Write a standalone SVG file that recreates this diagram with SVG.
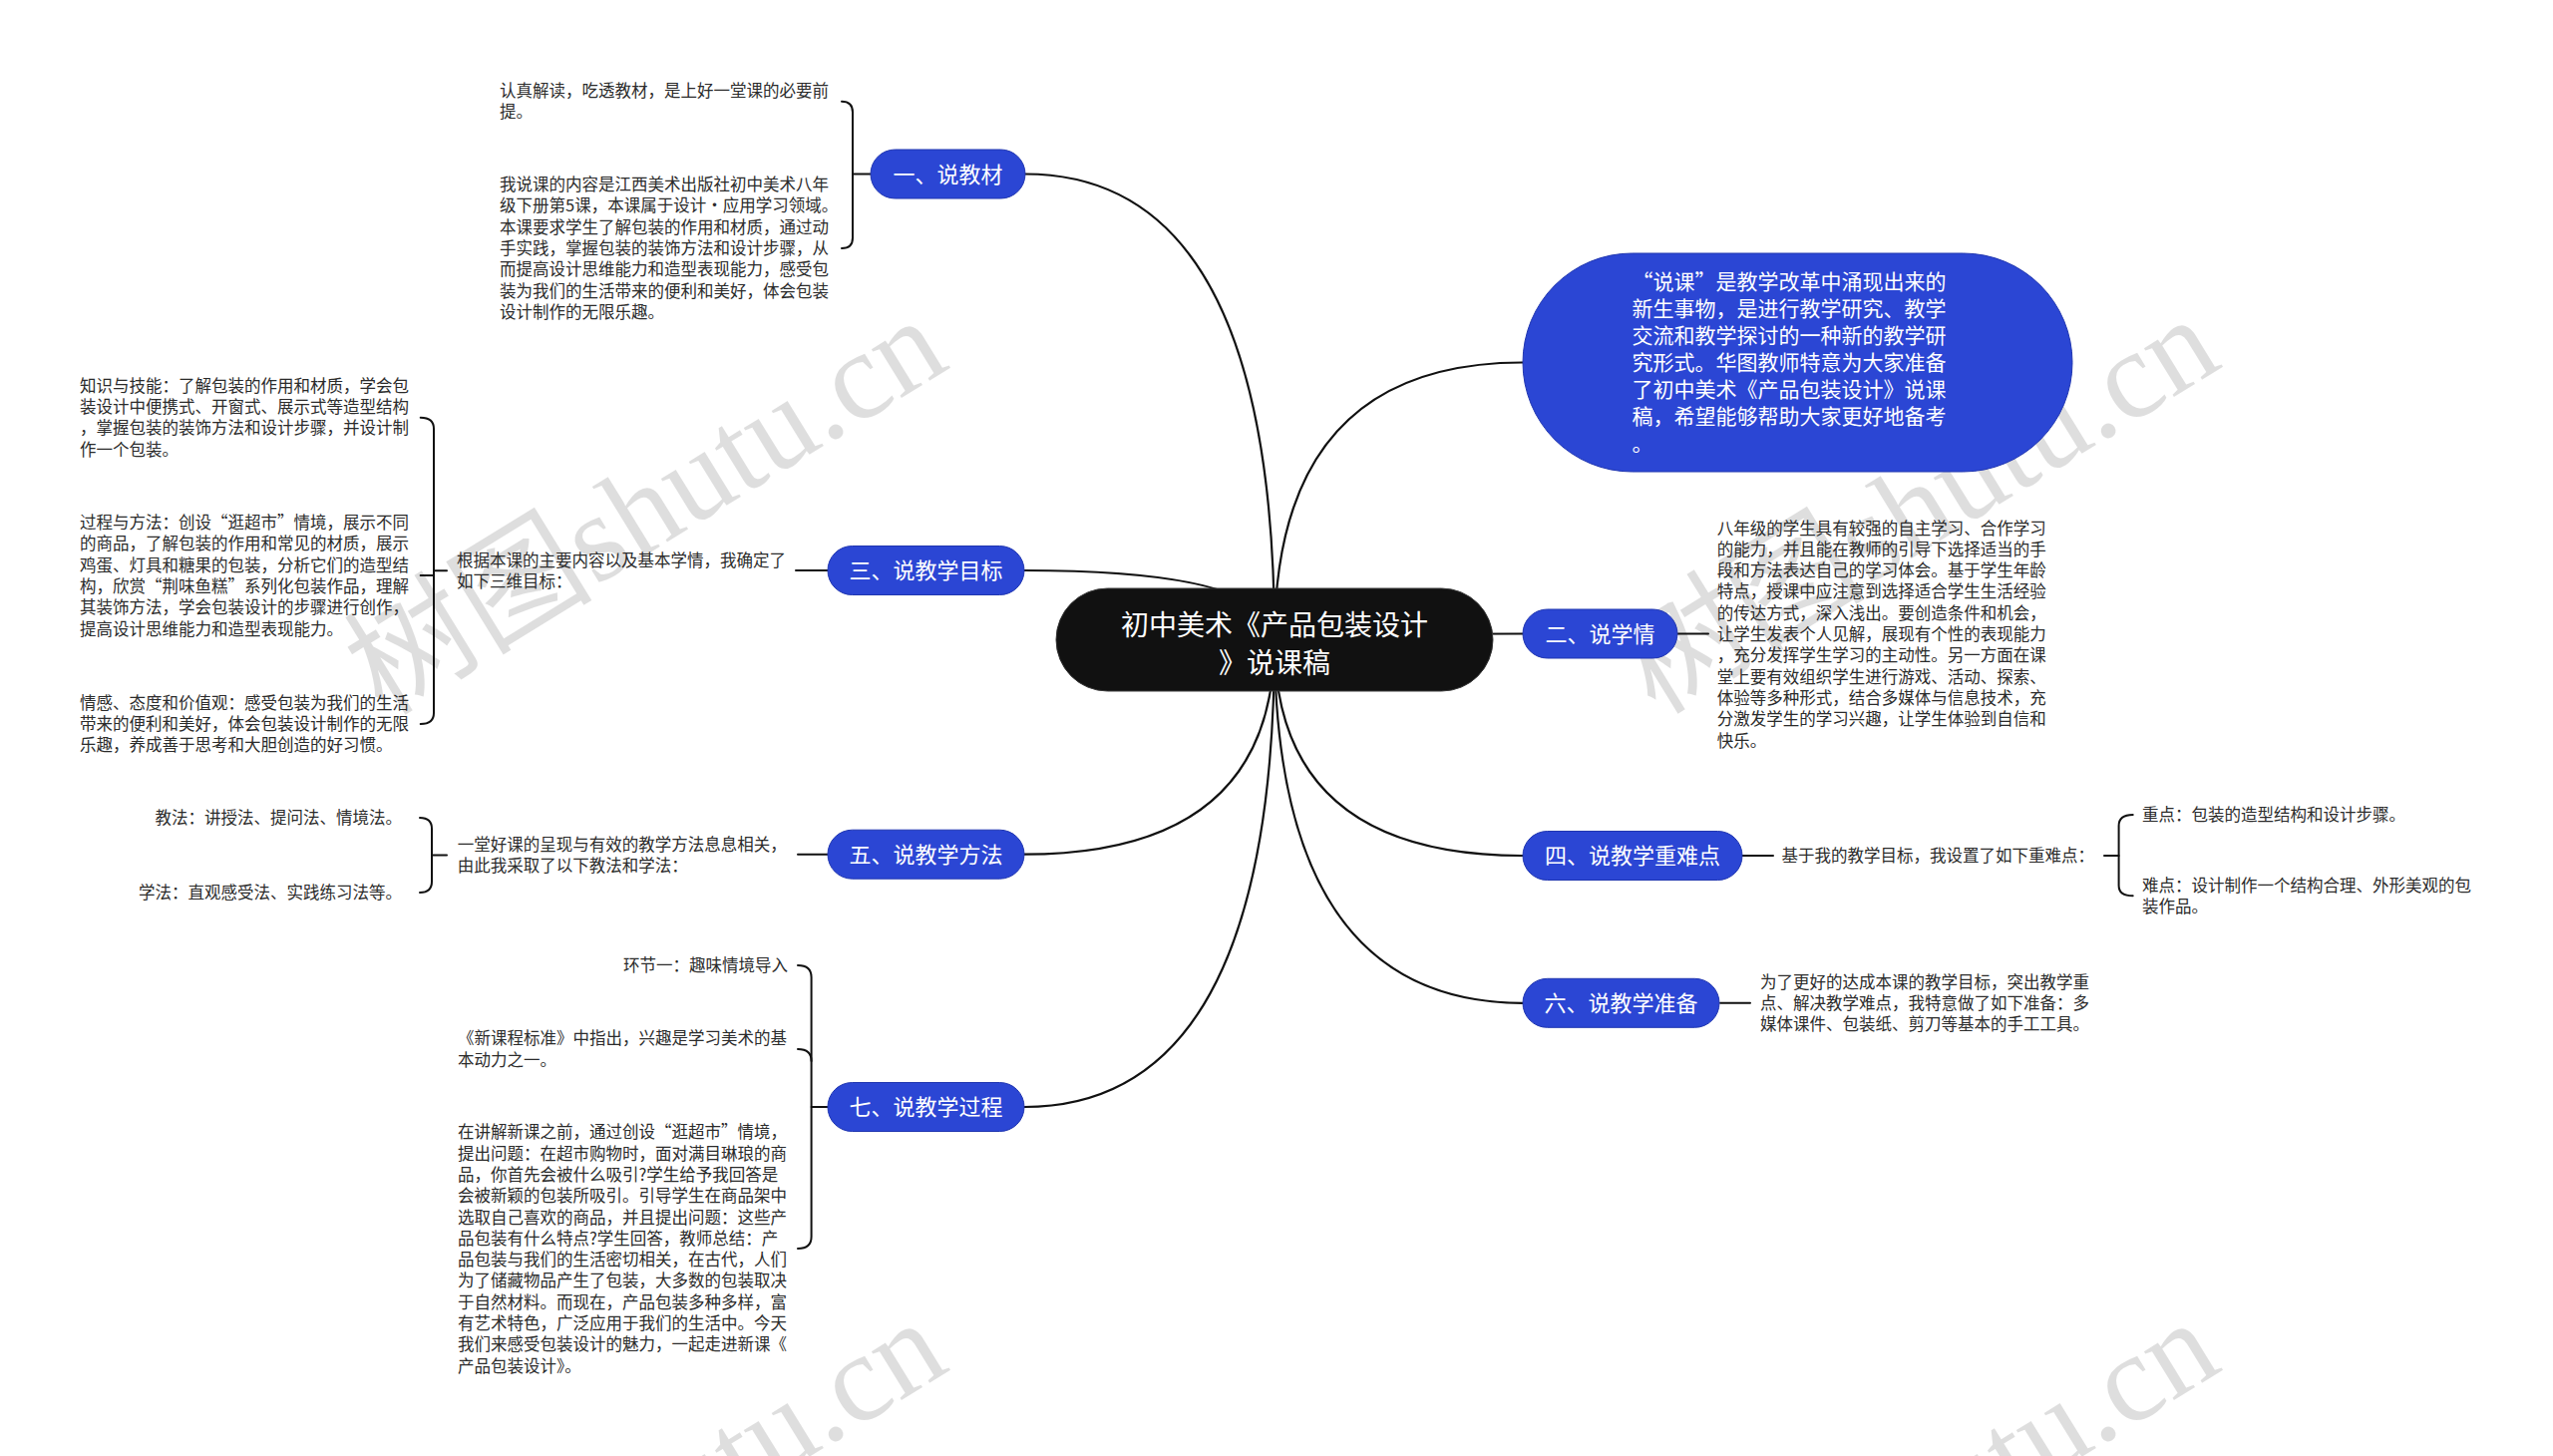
<svg xmlns="http://www.w3.org/2000/svg" width="2560" height="1460" viewBox="0 0 2560 1460">
<style>
.bg{fill:#ffffff}
.wm{font-family:"Liberation Serif","Noto Sans CJK SC",serif;font-size:125px;fill:#000;fill-opacity:0.13}
.t{font-family:"Noto Sans CJK SC","Noto Sans CJK JP",sans-serif;font-size:16.5px;fill:#2b2b2b}
.end{text-anchor:end}
.node{fill:#2b46d4;stroke:#2036b0;stroke-width:1}
.nt{font-family:"Noto Sans CJK SC","Noto Sans CJK JP",sans-serif;font-size:22px;fill:#ffffff;text-anchor:middle}
.root{fill:#111111;stroke:#3a3a3a;stroke-width:1}
.rt{font-family:"Noto Sans CJK SC","Noto Sans CJK JP",sans-serif;font-size:28px;fill:#ffffff;text-anchor:middle}
.bt{font-family:"Noto Sans CJK SC","Noto Sans CJK JP",sans-serif;font-size:21px;fill:#ffffff}
.conn{fill:none;stroke:#111111;stroke-width:2.2;stroke-linecap:round}
.sub{fill:none;stroke:#111111;stroke-width:2;stroke-linecap:round}
</style>
<rect class="bg" x="0" y="0" width="2560" height="1460"/>

<g id="watermarks">
  <text class="wm" transform="translate(384 719) rotate(-31.6)">树图shutu.cn</text>
  <text class="wm" transform="translate(1660 718) rotate(-31.6)">树图shutu.cn</text>
  <text class="wm" transform="translate(384 1724) rotate(-31.6)">树图shutu.cn</text>
  <text class="wm" transform="translate(1660 1724) rotate(-31.6)">树图shutu.cn</text>
</g>

<g id="connectors">
  <path class="conn" d="M1278,641.5 Q1278,174.5 1028,174.5"/>
  <path class="conn" d="M1278,641.5 Q1278,572 1027,572"/>
  <path class="conn" d="M1278,641.5 Q1278,856.7 1027,856.7"/>
  <path class="conn" d="M1278,641.5 Q1278,1110 1027,1110"/>
  <path class="conn" d="M1278,641.5 Q1278,363.5 1527,363.5"/>
  <path class="conn" d="M1278,641.5 Q1278,635.5 1527,635.5"/>
  <path class="conn" d="M1278,641.5 Q1278,858 1527,858"/>
  <path class="conn" d="M1278,641.5 Q1278,1005.8 1527,1005.8"/>

  <path class="sub" d="M844,101.7 Q855,101.7 855,112.5 V238.5 Q855,249 844,249"/>
  <path class="sub" d="M855,174.5 H873"/>

  <path class="sub" d="M421.7,418.7 Q435,418.7 435,430 V715 Q435,726 421.7,726"/>
  <path class="sub" d="M421.7,577 H435"/>
  <path class="sub" d="M435,572.3 H448"/>
  <path class="sub" d="M798,572 H830"/>

  <path class="sub" d="M421,820 Q433,820 433,831 V884 Q433,895 421,895"/>
  <path class="sub" d="M433,857.5 H448"/>
  <path class="sub" d="M800,856.7 H830"/>

  <path class="sub" d="M800,968 Q813.6,968 813.6,980 V1240 Q813.6,1252 800,1252"/>
  <path class="sub" d="M800,1052 Q813.6,1052 813.6,1064"/>
  <path class="sub" d="M813.6,1110 H830"/>

  <path class="sub" d="M1682,635.5 H1713"/>

  <path class="sub" d="M1747,858 H1778"/>
  <path class="sub" d="M2110,858 H2124.6"/>
  <path class="sub" d="M2138.7,817 Q2124.6,817 2124.6,828 V888 Q2124.6,898.3 2138.7,898.3"/>

  <path class="sub" d="M1725,1005.8 H1755"/>
</g>

<g id="root">
  <rect class="root" x="1059" y="590" width="438" height="103" rx="51.5"/>
  <text class="rt" x="1278" y="636.7">初中美术《产品包装设计</text>
  <text class="rt" x="1278" y="675">》说课稿</text>
</g>

<g id="intro">
  <rect class="node" x="1527" y="254" width="551" height="219" rx="109.5"/>
  <text class="bt">
    <tspan x="1636.6" y="290">“说课”是教学改革中涌现出来的</tspan>
    <tspan x="1636.6" y="317">新生事物，是进行教学研究、教学</tspan>
    <tspan x="1636.6" y="344">交流和教学探讨的一种新的教学研</tspan>
    <tspan x="1636.6" y="371">究形式。华图教师特意为大家准备</tspan>
    <tspan x="1636.6" y="398">了初中美术《产品包装设计》说课</tspan>
    <tspan x="1636.6" y="425">稿，希望能够帮助大家更好地备考</tspan>
    <tspan x="1636.6" y="452">。</tspan>
  </text>
</g>

<g id="n1">
  <rect class="node" x="873" y="150" width="155" height="49" rx="24.5"/>
  <text class="nt" x="950.5" y="182.5">一、说教材</text>
</g>
<g id="n1-a">
  <text class="t"><tspan x="501" y="97">认真解读，吃透教材，是上好一堂课的必要前</tspan><tspan x="501" y="118.3">提。</tspan></text>
</g>
<g id="n1-b">
  <text class="t">
    <tspan x="501" y="191.1">我说课的内容是江西美术出版社初中美术八年</tspan>
    <tspan x="501" y="212.4">级下册第5课，本课属于设计·应用学习领域。</tspan>
    <tspan x="501" y="233.7">本课要求学生了解包装的作用和材质，通过动</tspan>
    <tspan x="501" y="255">手实践，掌握包装的装饰方法和设计步骤，从</tspan>
    <tspan x="501" y="276.3">而提高设计思维能力和造型表现能力，感受包</tspan>
    <tspan x="501" y="297.6">装为我们的生活带来的便利和美好，体会包装</tspan>
    <tspan x="501" y="318.9">设计制作的无限乐趣。</tspan>
  </text>
</g>

<g id="n3">
  <rect class="node" x="830" y="547.5" width="197" height="49" rx="24.5"/>
  <text class="nt" x="928.5" y="580">三、说教学目标</text>
</g>
<g id="n3-m">
  <text class="t"><tspan x="458" y="567.7">根据本课的主要内容以及基本学情，我确定了</tspan><tspan x="458" y="589">如下三维目标：</tspan></text>
</g>
<g id="n3-a">
  <text class="t">
    <tspan x="80" y="392.8">知识与技能：了解包装的作用和材质，学会包</tspan>
    <tspan x="80" y="414.1">装设计中便携式、开窗式、展示式等造型结构</tspan>
    <tspan x="80" y="435.4">，掌握包装的装饰方法和设计步骤，并设计制</tspan>
    <tspan x="80" y="456.7">作一个包装。</tspan>
  </text>
</g>
<g id="n3-b">
  <text class="t">
    <tspan x="80" y="530">过程与方法：创设“逛超市”情境，展示不同</tspan>
    <tspan x="80" y="551.3">的商品，了解包装的作用和常见的材质，展示</tspan>
    <tspan x="80" y="572.6">鸡蛋、灯具和糖果的包装，分析它们的造型结</tspan>
    <tspan x="80" y="593.9">构，欣赏“荆味鱼糕”系列化包装作品，理解</tspan>
    <tspan x="80" y="615.2">其装饰方法，学会包装设计的步骤进行创作，</tspan>
    <tspan x="80" y="636.5">提高设计思维能力和造型表现能力。</tspan>
  </text>
</g>
<g id="n3-c">
  <text class="t">
    <tspan x="80" y="710.7">情感、态度和价值观：感受包装为我们的生活</tspan>
    <tspan x="80" y="732">带来的便利和美好，体会包装设计制作的无限</tspan>
    <tspan x="80" y="753.3">乐趣，养成善于思考和大胆创造的好习惯。</tspan>
  </text>
</g>

<g id="n5">
  <rect class="node" x="830" y="832.2" width="197" height="49" rx="24.5"/>
  <text class="nt" x="928.5" y="864.7">五、说教学方法</text>
</g>
<g id="n5-m">
  <text class="t"><tspan x="458.7" y="853">一堂好课的呈现与有效的教学方法息息相关，</tspan><tspan x="458.7" y="874.3">由此我采取了以下教法和学法：</tspan></text>
</g>
<g id="n5-a"><text class="t end" x="403" y="826">教法：讲授法、提问法、情境法。</text></g>
<g id="n5-b"><text class="t end" x="403" y="901">学法：直观感受法、实践练习法等。</text></g>

<g id="n7">
  <rect class="node" x="830" y="1085.5" width="197" height="49" rx="24.5"/>
  <text class="nt" x="928.5" y="1118">七、说教学过程</text>
</g>
<g id="n7-a"><text class="t end" x="790" y="974">环节一：趣味情境导入</text></g>
<g id="n7-b">
  <text class="t"><tspan x="459" y="1047.4">《新课程标准》中指出，兴趣是学习美术的基</tspan><tspan x="459" y="1068.7">本动力之一。</tspan></text>
</g>
<g id="n7-c">
  <text class="t">
    <tspan x="459" y="1141.3">在讲解新课之前，通过创设“逛超市”情境，</tspan>
    <tspan x="459" y="1162.6">提出问题：在超市购物时，面对满目琳琅的商</tspan>
    <tspan x="459" y="1183.9">品，你首先会被什么吸引?学生给予我回答是</tspan>
    <tspan x="459" y="1205.2">会被新颖的包装所吸引。引导学生在商品架中</tspan>
    <tspan x="459" y="1226.5">选取自己喜欢的商品，并且提出问题：这些产</tspan>
    <tspan x="459" y="1247.8">品包装有什么特点?学生回答，教师总结：产</tspan>
    <tspan x="459" y="1269.1">品包装与我们的生活密切相关，在古代，人们</tspan>
    <tspan x="459" y="1290.4">为了储藏物品产生了包装，大多数的包装取决</tspan>
    <tspan x="459" y="1311.7">于自然材料。而现在，产品包装多种多样，富</tspan>
    <tspan x="459" y="1333">有艺术特色，广泛应用于我们的生活中。今天</tspan>
    <tspan x="459" y="1354.3">我们来感受包装设计的魅力，一起走进新课《</tspan>
    <tspan x="459" y="1375.6">产品包装设计》。</tspan>
  </text>
</g>

<g id="n2">
  <rect class="node" x="1527" y="611" width="155" height="49" rx="24.5"/>
  <text class="nt" x="1604.5" y="643.5">二、说学情</text>
</g>
<g id="n2-a">
  <text class="t">
    <tspan x="1721.7" y="535.5">八年级的学生具有较强的自主学习、合作学习</tspan>
    <tspan x="1721.7" y="556.8">的能力，并且能在教师的引导下选择适当的手</tspan>
    <tspan x="1721.7" y="578.1">段和方法表达自己的学习体会。基于学生年龄</tspan>
    <tspan x="1721.7" y="599.4">特点，授课中应注意到选择适合学生生活经验</tspan>
    <tspan x="1721.7" y="620.7">的传达方式，深入浅出。要创造条件和机会，</tspan>
    <tspan x="1721.7" y="642">让学生发表个人见解，展现有个性的表现能力</tspan>
    <tspan x="1721.7" y="663.3">，充分发挥学生学习的主动性。另一方面在课</tspan>
    <tspan x="1721.7" y="684.6">堂上要有效组织学生进行游戏、活动、探索、</tspan>
    <tspan x="1721.7" y="705.9">体验等多种形式，结合多媒体与信息技术，充</tspan>
    <tspan x="1721.7" y="727.2">分激发学生的学习兴趣，让学生体验到自信和</tspan>
    <tspan x="1721.7" y="748.5">快乐。</tspan>
  </text>
</g>

<g id="n4">
  <rect class="node" x="1527" y="833.5" width="220" height="49" rx="24.5"/>
  <text class="nt" x="1637" y="866">四、说教学重难点</text>
</g>
<g id="n4-m"><text class="t" x="1786.6" y="864">基于我的教学目标，我设置了如下重难点：</text></g>
<g id="n4-a"><text class="t" x="2148" y="823">重点：包装的造型结构和设计步骤。</text></g>
<g id="n4-b">
  <text class="t"><tspan x="2148" y="894">难点：设计制作一个结构合理、外形美观的包</tspan><tspan x="2148" y="915.3">装作品。</tspan></text>
</g>

<g id="n6">
  <rect class="node" x="1527" y="981.3" width="197" height="49" rx="24.5"/>
  <text class="nt" x="1625.5" y="1013.8">六、说教学准备</text>
</g>
<g id="n6-a">
  <text class="t">
    <tspan x="1765" y="990.5">为了更好的达成本课的教学目标，突出教学重</tspan>
    <tspan x="1765" y="1011.8">点、解决教学难点，我特意做了如下准备：多</tspan>
    <tspan x="1765" y="1033.1">媒体课件、包装纸、剪刀等基本的手工工具。</tspan>
  </text>
</g>
</svg>
